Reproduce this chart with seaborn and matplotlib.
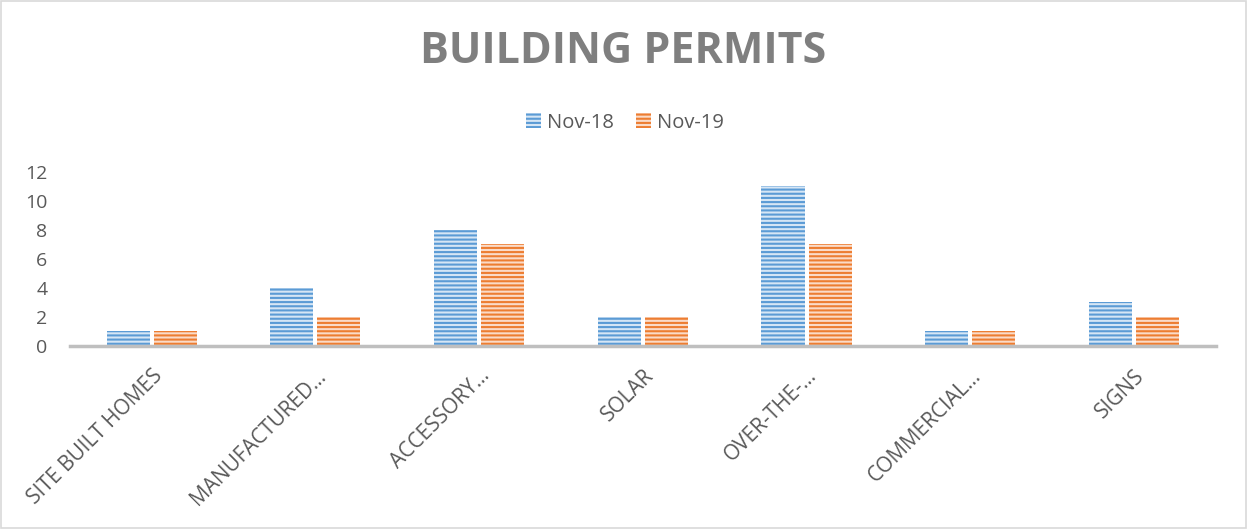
import pandas as pd
import seaborn as sns
import matplotlib.pyplot as plt
from matplotlib.patches import Patch, Rectangle

# Chart data
categories = ["SITE BUILT HOMES", "MANUFACTURED…", "ACCESSORY…", "SOLAR",
              "OVER-THE-…", "COMMERCIAL…", "SIGNS"]
nov_18 = [1, 4, 8, 2, 11, 1, 3]
nov_19 = [1, 2, 7, 2, 7, 1, 2]
series_names = ["Nov-18", "Nov-19"]
y_ticks = [0, 2, 4, 6, 8, 10, 12]

main_colors = ["#5B9BD5", "#ED7D31"]
light_colors = ["#D6E6F5", "#FADBC8"]
text_color = "#595959"

df = pd.DataFrame({
    "Category": categories * 2,
    "Value": nov_18 + nov_19,
    "Series": [series_names[0]] * len(categories) + [series_names[1]] * len(categories),
})

sns.set_style("white")
plt.rcParams["font.family"] = ["Open Sans", "DejaVu Sans"]
plt.rcParams["hatch.linewidth"] = 1.5

fig = plt.figure(figsize=(12.47, 5.29), dpi=100)
ax = fig.add_axes([0.056, 0.346, 0.919, 0.329])

sns.barplot(data=df, x="Category", y="Value", hue="Series", order=categories,
            hue_order=series_names, palette=main_colors, width=0.575, gap=0.086,
            legend=False, ax=ax)

# Striped fill like the original Excel pattern
for container, light, main in zip(ax.containers, light_colors, main_colors):
    for bar in container.patches:
        bar.set_facecolor(light)
        bar.set_edgecolor(main)
        bar.set_linewidth(0)
        bar.set_hatch("----")

ax.set_ylim(0, 12)
ax.set_yticks(y_ticks)
ax.set_xlim(-0.5, len(categories) - 0.5)
ax.set_xlabel("")
ax.set_ylabel("")
ax.tick_params(axis="y", labelsize=14, labelcolor=text_color, length=0, pad=16)
ax.tick_params(axis="x", labelsize=15, labelcolor=text_color, length=0, pad=14)
plt.setp(ax.get_xticklabels(), rotation=45, ha="right", rotation_mode="anchor")

for side in ["left", "right", "top"]:
    ax.spines[side].set_visible(False)
ax.spines["bottom"].set_color("#BFBFBF")
ax.spines["bottom"].set_linewidth(2.5)

handles = [Patch(facecolor=light_colors[i], edgecolor=main_colors[i], hatch="----",
                 linewidth=0, label=series_names[i]) for i in range(2)]
fig.legend(handles=handles, loc="center", bbox_to_anchor=(0.501, 0.768), ncol=2,
           frameon=False, fontsize=14.5, labelcolor=text_color,
           handlelength=0.75, handleheight=0.75, columnspacing=1.1, handletextpad=0.3)

fig.text(0.5, 0.903, "BUILDING PERMITS", ha="center", va="center",
         fontsize=31, fontweight="bold", color="#7F7F7F")

# Thin border around the chart area
fig.patches.append(Rectangle((0.001, 0.002), 0.998, 0.996, transform=fig.transFigure,
                             fill=False, edgecolor="#D9D9D9", linewidth=1.2))

fig.savefig("out.png", dpi=100)
plt.close(fig)
